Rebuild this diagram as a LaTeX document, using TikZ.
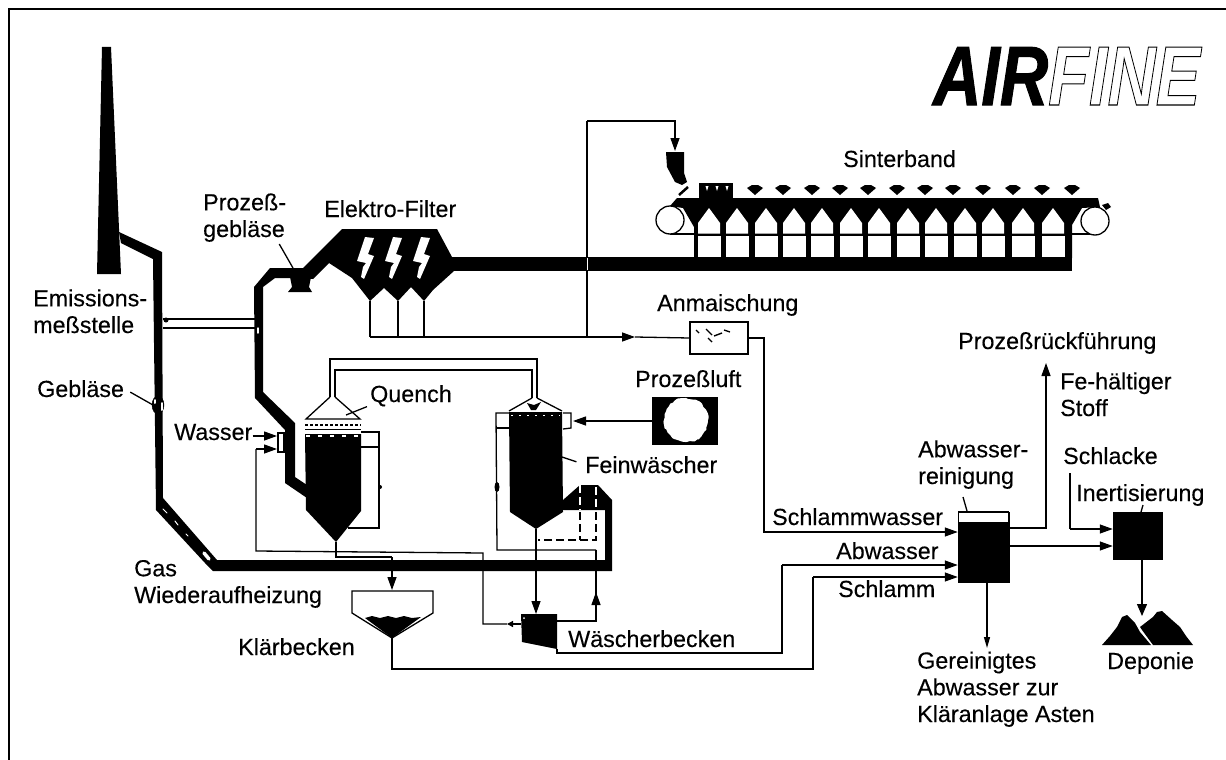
\documentclass[tikz,border=0pt]{standalone}
\usepackage{fontspec}
\setmainfont{Liberation Sans}
\usetikzlibrary{arrows.meta,decorations.pathmorphing}
\newcommand{\umriss}[1]{\special{pdf: code 1 Tr 1 w}#1\special{pdf: code 0 Tr}}
\newcommand{\voll}[1]{\special{pdf: code 2 Tr 1.2 w}#1\special{pdf: code 0 Tr}}
\tikzset{
    txt/.style={font=\fontsize{23.3}{26.7}\selectfont\addfontfeature{FakeBold=0.25}, inner sep=0pt, anchor=base west, align=left},
    flow/.style={line width=1.3pt},
    pfeil/.style={-{Triangle[length=13pt,width=9pt]}},
    kasten/.style={fill=black, draw=black, inner sep=0pt, line width=0.5pt},
    fleck/.style={white, line width=2pt, line cap=round}
}

\begin{document}
\begin{tikzpicture}[x=1pt, y=-1pt]
\useasboundingbox (0,0) rectangle (1226,760);

% Rahmen: nur oben und links
\draw[line width=2.8pt] (9,760) -- (9,9) -- (1226,9);

% Logo
\node[font=\fontsize{84}{84}\bfseries\itshape\selectfont, inner sep=0pt, anchor=base west, xscale=0.795, transform shape] (logo) at (933,105) {\voll{AIR}\umriss{FINE}};

% Kamin und Rauchgasleitung
\fill (102,47) -- (111,47) -- (121,274) -- (97,274) -- cycle;
\fill (119,232) -- (162,252) -- (163,498) -- (217,560) -- (605,560) -- (605,510) -- (563,510) -- (563,500) -- (580,485) -- (598,485) -- (612,500) -- (612,571) -- (213,571) -- (205,563) -- (156,510) -- (153,259) -- (121,243) -- cycle;
\draw[fill=black] (158,405) ellipse (6 and 9);
\draw[fleck] (155,400) -- (155,403);
\draw[fleck] (162,403) -- (162,410);
\draw[fleck, line width=3.5pt] (204,553) -- (209,559);
\draw[fleck, line width=1pt] (163,509) -- (167,513);
\draw[fleck, line width=1pt] (175,521) -- (178,525);
\draw[fleck, line width=1pt] (186,534) -- (188,536);

% Querverbindung
\draw[flow] (163,319) -- (255,319);
\draw[flow] (163,328) -- (255,328);
\fill (166,320) circle (2.5);

% Gasleitung zum Filter
\fill (304,268) -- (270,268) -- (254,287) -- (255,398) -- (285,430) -- (285,483) -- (307,498) -- (307,485) -- (295,477) -- (295,423) -- (263,392) -- (263,287) -- (275,278) -- (304,278) -- cycle;
\draw[fleck, line width=1.5pt] (258,328) -- (258,333);

% Prozessgeblaese
\fill (290,277) -- (311,277) -- (309,287) -- (312,292) -- (288,292) -- (292,287) -- cycle;

% Elektro-Filter
\fill (303,268) -- (342,229) -- (437,229) -- (452,257) -- (454,271) -- (433,290) -- (424,301) -- (411,287) -- (398,301) -- (384,288) -- (370,301) -- (352,278) -- (329,263) -- (313,279) -- (303,278) -- cycle;
\foreach \xpos in {0,28,56} {
    \fill[white, shift={(\xpos,0)}] (365,237) -- (374,238) -- (368,254) -- (374,256) -- (364,279) -- (361,277) -- (363,267) -- (366,263) -- (357,261) -- cycle;
}

% Abgasleitung unter dem Band
\fill (452,257) rectangle (1072,271);

% Sinterband
\fill (670,206) -- (677,198) -- (1098,198) -- (1100,207) -- (1082,208) -- (1072,225) -- (1072,258) -- (694,258) -- (694,227) -- (683,208) -- cycle;
\foreach \xpos in {709,737,766,794,822,851,879,908,936,965,993,1023,1053} {
    \fill[white] (\xpos-11,233.5) -- (\xpos-11,223) -- (\xpos,208) -- (\xpos+11,223) -- (\xpos+11,233.5) -- cycle;
    \fill[white] (\xpos-11.5,236) rectangle (\xpos+11.5,257);
}
\foreach \xpos in {755,783,812,840,868,897,925,953,983,1013,1042,1072} {
    \fill (\xpos-8,188) -- (\xpos-3,185) -- (\xpos+3,185) -- (\xpos+8,188) -- (\xpos,195) -- cycle;
}
\draw[flow] (670,234) -- (694,234);
\draw[flow] (1072,234) -- (1095,234);
\draw[flow, fill=white] (670,220) circle (14);
\draw[flow, fill=white] (1095,221) circle (14);
\fill (1102,205) -- (1108,203) -- (1111,207) -- (1106,210) -- cycle;
% Zuendhaube
\fill (699,183) rectangle (733,198);
\foreach \xpos in {707,717,727} {
    \fill[white] (\xpos-1.5,186) -- (\xpos+1.5,186) -- (\xpos,191) -- cycle;
}
% Aufgabetrichter
\fill (666,152) -- (684,152) -- (684,173) -- (687,182) -- (682,185) -- (675,182) -- (667,167) -- cycle;
\draw[line width=2.5pt] (679,195) -- (688,187);
\coordinate (trichter) at (675,151);

% Staubaustrag und Anmaischung
\node[draw, flow, fill=white, minimum width=58pt, minimum height=32pt, inner sep=0pt] (anmaischung) at (719,338) {};
\foreach \xa/\ya/\xb/\yb in {696/330/699/333, 706/329/712/335, 714/336/722/333, 708/338/712/342, 724/330/730/332} {
    \draw[line width=1.4pt] (\xa,\ya) -- (\xb,\yb);
}
\coordinate (staub) at (370,337);
\coordinate (staubpfeil) at (635,337);
\coordinate (abzweig) at (587,337);
\coordinate (abzweigoben) at (587,121);
\draw[flow] (370,301) -- (staub);
\draw[flow] (398,301) -- (398,337);
\draw[flow] (424,301) -- (424,337);
\draw[flow, pfeil] (staub) -- (staubpfeil);
\draw[flow] (staubpfeil) -- (anmaischung.west);
\draw[flow] (abzweig) -- (abzweigoben);
\draw[flow, pfeil] (abzweigoben) -| (trichter);
\draw[white, line width=0.8pt] (587,258) -- (587,270);

% Quench
\draw[flow] (330,397) -- (306,419) -- (360,419) -- (335,397);
\fill (305,434) -- (361,434) -- (361,511) -- (336,542) -- (306,510) -- cycle;
\draw[line width=2pt, dash pattern=on 3pt off 2pt] (305,424.5) -- (361,424.5);
\draw[flow] (305,429.5) -- (361,429.5);
\draw[fleck, dash pattern=on 4pt off 8pt, line cap=butt] (306,436) -- (360,436);
\coordinate (quenchtip) at (336,542);
\draw[flow] (361,432) -- (379,432) -- (379,528) -- (348,528);
\draw[flow] (361,447) -- (379,447);
\fill (380,487) circle (2);

% Doppelleitung Quench - Feinwaescher
\draw[flow] (330,397) -- (330,359) -- (537,359) -- (537,398);
\draw[flow] (335,397) -- (335,370) -- (532,370) -- (532,398);

% Feinwaescher
\draw[flow] (532,398) -- (509,411);
\draw[flow] (537,398) -- (562,411);
\fill (527,403) -- (534,405) -- (541,402) -- (536,410) -- (531,410) -- cycle;
\fill (509,412) -- (562,412) -- (563,512) -- (536,529) -- (510,512) -- cycle;
\draw[fleck, line width=1pt, dash pattern=on 2pt off 6pt, line cap=butt] (511,415) -- (560,415);
\coordinate (feintip) at (536,529);
\draw[flow] (509,413) -- (496,413) -- (497,550) -- (596,550);
\draw[flow] (497,428) -- (509,428);
\fill (497,487) ellipse (2.5 and 5);
\draw[white, line width=1.4pt, dash pattern=on 8pt off 4pt] (580,485) -- (580,510);
\draw[white, line width=1.4pt, dash pattern=on 8pt off 4pt] (596,487) -- (596,510);
\draw[flow, dash pattern=on 8pt off 4pt] (580,512) -- (580,540);
\draw[flow, dash pattern=on 8pt off 4pt] (596,512) -- (596,540) -- (538,540);

% Prozessluft
\node[kasten, minimum width=65pt, minimum height=47pt] (prozessluft) at (684.5,420.5) {};
\fill[white, decorate, decoration={random steps, segment length=3pt, amplitude=1pt}] (686,420) circle (22);
\coordinate (duese) at (573,421);
\draw[flow] (563,413) -- (571,413) -- (571,428) -- (563,429);
\draw[flow, pfeil] (prozessluft.west |- duese) -- (duese);

% Klaerbecken
\draw[flow] (352,591) -- (433,591) -- (433,613) -- (392,638) -- (352,613) -- cycle;
\fill (365,618) -- (372,616) -- (380,618) -- (388,616) -- (396,618) -- (404,616) -- (412,618) -- (421,617) -- (392,638) -- cycle;
\coordinate (klaertip) at (392,638);
\coordinate (klaerein) at (392,590);
\coordinate (quenchknick) at (336,557);
\draw[flow] (quenchtip) -- (quenchknick) -- (quenchknick -| klaerein);
\draw[flow, pfeil] (quenchknick -| klaerein) -- (klaerein);

% Waescherbecken
\fill (521,614) -- (557,614) -- (557,649) -- (522,642) -- cycle;
\fill[white] (524,618) circle (1);
\coordinate (waescherein) at (536,614);
\coordinate (waescherrechts) at (557,621);
\coordinate (waescherlinks) at (521,624);
\coordinate (waescherunten) at (557,649);
\draw[flow, pfeil] (feintip) -- (waescherein);
\draw[flow] (waescherrechts) -- (596,621) -- (596,592);
\draw[flow, pfeil] (596,621) -- (596,592);
\draw[flow] (596,592) -- (596,550);
\draw[flow, -{Triangle[length=6pt,width=6pt]}] (waescherlinks) -- (507,624);
\draw[flow] (507,624) -- (483,624) -- (483,553) -- (256,551) -- (256,449);
\draw[flow, pfeil] (256,449) -- (277,449);
\draw[flow] (278,433) -- (284,433) -- (284,452) -- (278,452) -- cycle;

% Abwasserreinigung
\node[kasten, minimum width=51pt, minimum height=70pt] (reinigung) at (983.5,547) {};
\draw[flow, fill=white] (958.5,512) rectangle (1008.5,523);
\coordinate (schlammk) at (764,532);
\coordinate (abwasserk) at (782,565);
\coordinate (schlammb) at (813,577);
\draw[flow, pfeil] (anmaischung.east) -| (schlammk) -- (schlammk -| reinigung.west);
\draw[flow] (waescherunten) |- (557,653) -| (abwasserk);
\draw[flow, pfeil] (abwasserk) -- (abwasserk -| reinigung.west);
\draw[flow] (klaertip) |- (392,669) -| (schlammb);
\draw[flow, pfeil] (schlammb) -- (schlammb -| reinigung.west);
\coordinate (rueck) at (1046,363);
\draw[flow, pfeil] (reinigung.east |- 1009,528) -| (rueck);
\coordinate (astenpfeil) at (987,648);
\draw[flow, -{Triangle[length=11pt,width=6pt]}] (reinigung.south -| astenpfeil) -- (astenpfeil);

% Inertisierung und Deponie
\node[kasten, minimum width=49pt, minimum height=47pt] (inert) at (1137.5,535.5) {};
\coordinate (schlackeoben) at (1070,473);
\coordinate (schlackeein) at (1070,529);
\draw[flow] (schlackeoben) -- (schlackeein);
\draw[flow, pfeil] (schlackeein) -- (schlackeein -| inert.west);
\draw[flow, pfeil] (reinigung.east |- 1009,546) -- (inert.west |- 1113,546);
\coordinate (deponiepfeil) at (1142,616);
\draw[flow, -{Triangle[length=12pt,width=10pt]}] (inert.south -| deponiepfeil) -- (deponiepfeil);
\fill (1102,645) -- (1110,636) -- (1117,627) -- (1122,617) -- (1127,615) -- (1135,623) -- (1140,632) -- (1151,645) -- cycle;
\fill (1140,627) -- (1153,617) -- (1157,612) -- (1162,611) -- (1172,620) -- (1180,627) -- (1186,636) -- (1193,645) -- (1153,645) -- (1142,630) -- cycle;

% Beschriftung
\node[txt] (sinterband) at (843,167) {Sinterband};
\node[txt] (filter) at (324,217) {Elektro-Filter};
\node[txt] (geblaeseoben) at (203,237) {Prozeß-\\gebläse};
\node[txt] (emission) at (33,333) {Emissions-\\meßstelle};
\node[txt] (geblaese) at (37,397) {Gebläse};
\node[txt] (wasser) at (174,440) {Wasser};
\node[txt] (quench) at (370,402) {Quench};
\node[txt] (feinw) at (585,473) {Feinwäscher};
\node[txt] (gas) at (134,603) {Gas\\Wiederaufheizung};
\node[txt] (klaer) at (238,655) {Klärbecken};
\node[txt] (waescherb) at (568,647) {Wäscherbecken};
\node[txt] (anmaisch) at (657,311) {Anmaischung};
\node[txt] (luft) at (635,387) {Prozeßluft};
\node[txt] (rueckf) at (958,349) {Prozeßrückführung};
\node[txt] (fe) at (1060,416) {Fe-hältiger\\Stoff};
\node[txt] (abwreinig) at (918,484) {Abwasser-\\reinigung};
\node[txt] (schlacke) at (1063,464) {Schlacke};
\node[txt] (inertl) at (1076,501) {Inertisierung};
\node[txt] (schlammw) at (772,525) {Schlammwasser};
\node[txt] (abw) at (836,559) {Abwasser};
\node[txt] (schlamm) at (838,597) {Schlamm};
\node[txt] (asten) at (917,722) {Gereinigtes\\Abwasser zur\\Kläranlage Asten};
\node[txt] (deponie) at (1107,669) {Deponie};

% Hinweislinien
\coordinate (wasserein) at (277,436);
\draw[flow, pfeil] (wasser.east |- wasserein) -- (wasserein);
\coordinate (geblaesepunkt) at (293,268);
\coordinate (fanpunkt) at (153,405);
\coordinate (quenchpunkt) at (346,415);
\coordinate (feinpunkt) at (562,457);
\coordinate (reinigstart) at (963,497);
\coordinate (reinigpunkt) at (967,511);
\coordinate (inertstart) at (1143,505);
\coordinate (inertpunkt) at (1141,512);
\draw[flow] (geblaeseoben.south east) ++(-7,2) -- (geblaesepunkt);
\draw[flow, shorten <=7pt] (geblaese.east) -- (fanpunkt);
\draw[flow] (quench.south west) ++(-3,0) -- (quenchpunkt);
\draw[flow, shorten <=9pt] (feinw.west) -- (feinpunkt);
\draw[flow] (reinigstart) -- (reinigpunkt);
\draw[flow] (inertstart) -- (inertpunkt);
\end{tikzpicture}
\end{document}
